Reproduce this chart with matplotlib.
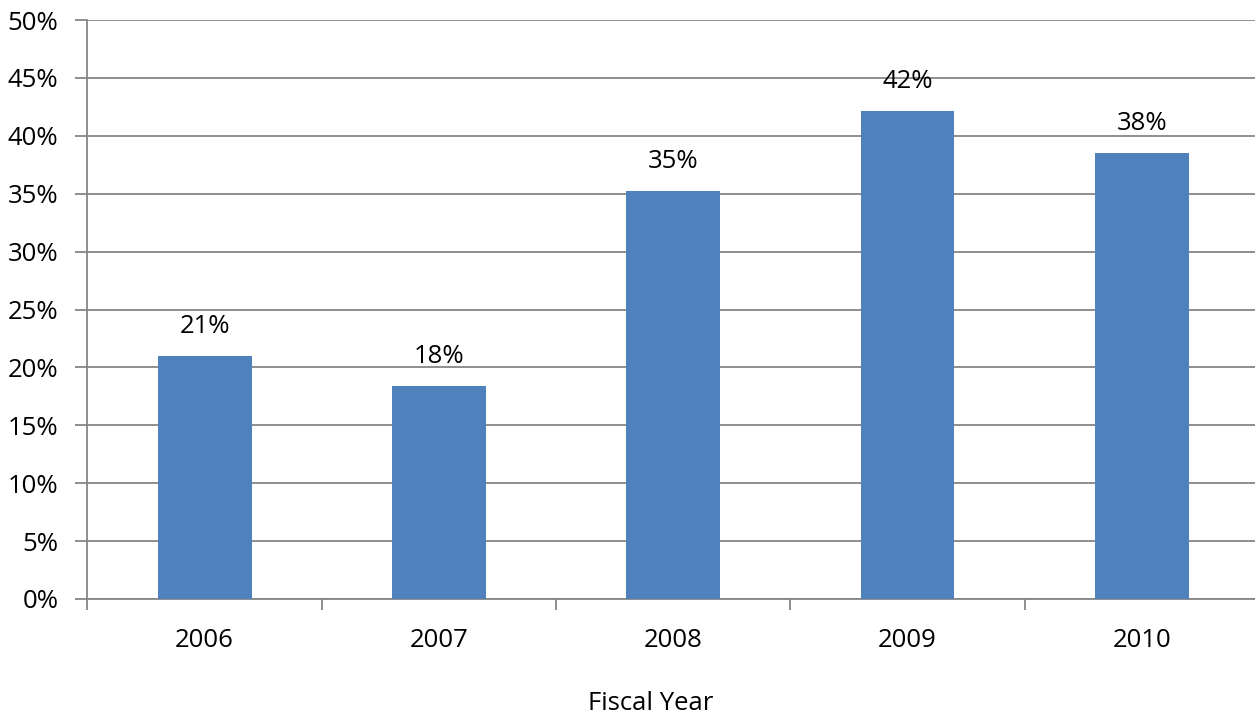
import numpy as np
import matplotlib.pyplot as plt
from matplotlib.ticker import FuncFormatter, MultipleLocator

# Data.
years = ["2006", "2007", "2008", "2009", "2010"]
shares_pct = [21.0, 18.4, 35.2, 42.1, 38.5]
bar_labels = ["21%", "18%", "35%", "42%", "38%"]

plt.rcParams['font.family'] = ['Open Sans', 'DejaVu Sans']

W, H = 1255, 717
fig = plt.figure(figsize=(W / 100, H / 100), dpi=100)
left, right, top, bottom = 87.5, 1259, 20, 599
ax = fig.add_axes([left / W, 1 - bottom / H, (right - left) / W, (bottom - top) / H])

grid_color = "#868686"
fs = 18.5
x = np.arange(len(years))
bars = ax.bar(x, shares_pct, width=0.4, color="#4F81BD", zorder=3)

for rect, lab in zip(bars, bar_labels):
    ax.annotate(lab, (rect.get_x() + rect.get_width() / 2, rect.get_height()),
                xytext=(0, 17), textcoords="offset pixels",
                ha="center", va="bottom", fontsize=fs)

ax.set_xlim(-0.5, len(years) - 0.5)
ax.set_ylim(0, 50)
ax.yaxis.set_major_locator(MultipleLocator(5))
ax.yaxis.set_major_formatter(FuncFormatter(lambda v, p: f"{v:.0f}%"))
ax.grid(axis="y", color=grid_color, linewidth=1.3, zorder=0)

ax.set_xticks(x)
ax.set_xticklabels(years)
ax.set_xticks(np.arange(len(years) + 1) - 0.5, minor=True)
ax.tick_params(axis="x", which="major", length=0, pad=21, labelsize=fs)
ax.tick_params(axis="x", which="minor", length=8, width=1.3, color=grid_color)
ax.tick_params(axis="y", length=9, width=1.3, color=grid_color, pad=12, labelsize=fs)

for side in ["top", "right"]:
    ax.spines[side].set_visible(False)
for side in ["left", "bottom"]:
    ax.spines[side].set_color(grid_color)
    ax.spines[side].set_linewidth(1.3)

fig.text(651 / W, 1 - 703 / H, "Fiscal Year", ha="center", va="center", fontsize=fs)

fig.savefig("out.png", dpi=100)
